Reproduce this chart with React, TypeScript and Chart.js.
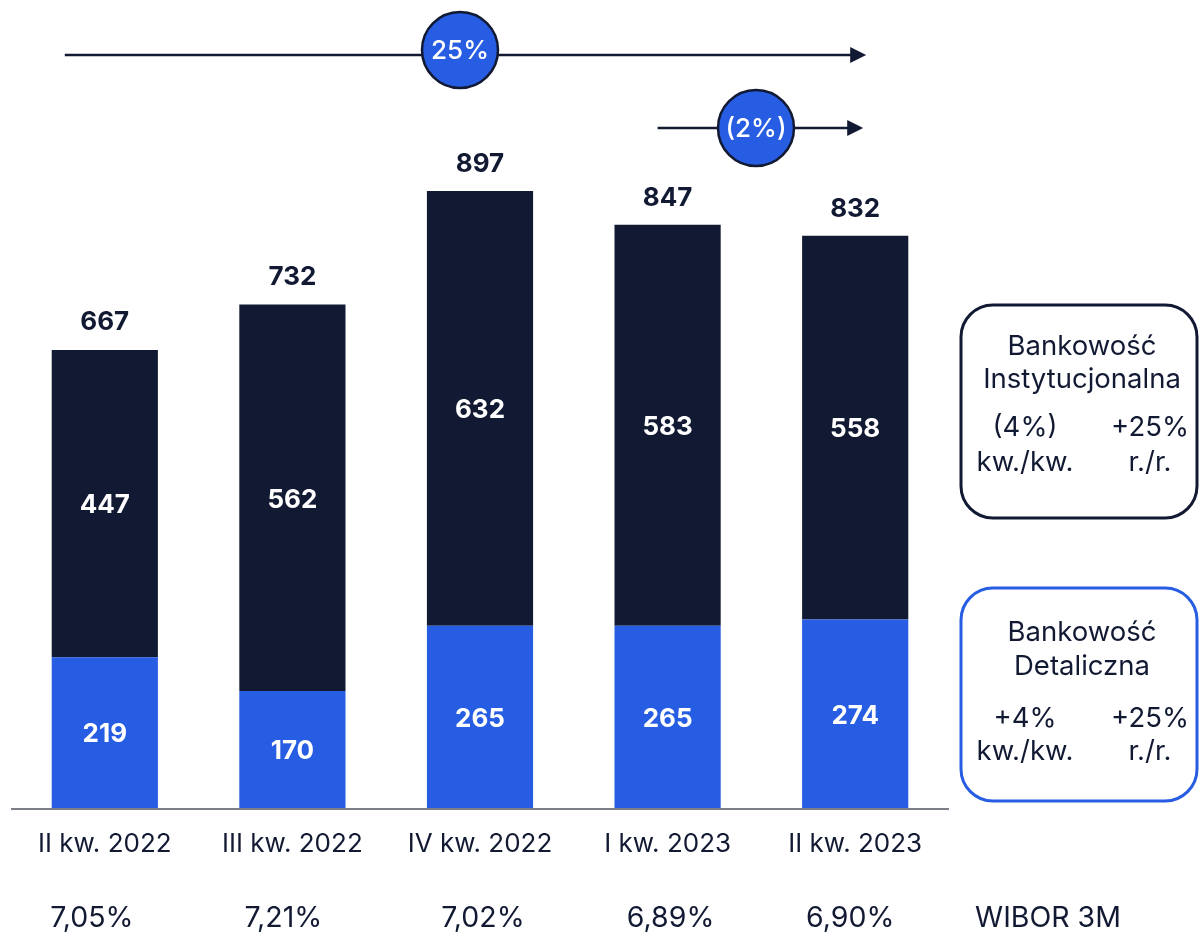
import React, { useEffect, useRef } from 'react';
import { Chart, registerables } from 'chart.js';

Chart.register(...registerables);

const categories = ['II kw. 2022', 'III kw. 2022', 'IV kw. 2022', 'I kw. 2023', 'II kw. 2023'];
const retailValues = [219, 170, 265, 265, 274];
const institutionalValues = [447, 562, 632, 583, 558];
const totalValues = [667, 732, 897, 847, 832];
const wiborValues = ['7,05%', '7,21%', '7,02%', '6,89%', '6,90%'];
const wiborTitle = 'WIBOR 3M';
const growthYearLabel = '25%';
const growthQuarterLabel = '(2%)';
const institutionalBoxTitle = ['Bankowość', 'Instytucjonalna'];
const institutionalBoxValues = ['(4%)', '+25%'];
const retailBoxTitle = ['Bankowość', 'Detaliczna'];
const retailBoxValues = ['+4%', '+25%'];
const boxPeriods = ['kw./kw.', 'r./r.'];

const NAVY = '#121933';
const BLUE = '#265DE2';
const FONT = 'Inter, "Noto Sans", sans-serif';

function roundRect(ctx: CanvasRenderingContext2D, x: number, y: number, w: number, h: number, r: number) {
  ctx.beginPath();
  ctx.moveTo(x + r, y);
  ctx.lineTo(x + w - r, y);
  ctx.arcTo(x + w, y, x + w, y + r, r);
  ctx.lineTo(x + w, y + h - r);
  ctx.arcTo(x + w, y + h, x + w - r, y + h, r);
  ctx.lineTo(x + r, y + h);
  ctx.arcTo(x, y + h, x, y + h - r, r);
  ctx.lineTo(x, y + r);
  ctx.arcTo(x, y, x + r, y, r);
  ctx.closePath();
}

function arrow(ctx: CanvasRenderingContext2D, x1: number, x2: number, y: number) {
  ctx.save();
  ctx.strokeStyle = NAVY;
  ctx.fillStyle = NAVY;
  ctx.lineWidth = 2.5;
  ctx.beginPath();
  ctx.moveTo(x1, y);
  ctx.lineTo(x2 - 12, y);
  ctx.stroke();
  ctx.beginPath();
  ctx.moveTo(x2, y);
  ctx.lineTo(x2 - 16, y - 8);
  ctx.lineTo(x2 - 16, y + 8);
  ctx.closePath();
  ctx.fill();
  ctx.restore();
}

function bubble(ctx: CanvasRenderingContext2D, x: number, y: number, text: string) {
  ctx.save();
  ctx.beginPath();
  ctx.arc(x, y, 38, 0, Math.PI * 2);
  ctx.fillStyle = BLUE;
  ctx.fill();
  ctx.lineWidth = 2.5;
  ctx.strokeStyle = NAVY;
  ctx.stroke();
  ctx.fillStyle = '#ffffff';
  ctx.font = `500 26px ${FONT}`;
  ctx.textAlign = 'center';
  ctx.textBaseline = 'middle';
  ctx.fillText(text, x, y + 1);
  ctx.restore();
}

function infoBox(
  ctx: CanvasRenderingContext2D,
  top: number,
  color: string,
  title: string[],
  values: string[],
  rows: number[],
) {
  ctx.save();
  roundRect(ctx, 961, top, 236, 213, 32);
  ctx.lineWidth = 3;
  ctx.strokeStyle = color;
  ctx.stroke();
  ctx.fillStyle = NAVY;
  ctx.font = `400 27.5px ${FONT}`;
  ctx.textAlign = 'center';
  ctx.textBaseline = 'middle';
  ctx.fillText(title[0], 1082, rows[0]);
  ctx.fillText(title[1], 1082, rows[1]);
  ctx.fillText(values[0], 1025, rows[2]);
  ctx.fillText(values[1], 1150, rows[2]);
  ctx.fillText(boxPeriods[0], 1025, rows[3]);
  ctx.fillText(boxPeriods[1], 1150, rows[3]);
  ctx.restore();
}

const overlayPlugin = {
  id: 'overlay',
  afterDatasetsDraw(chart: any) {
    const ctx: CanvasRenderingContext2D = chart.ctx;
    const area = chart.chartArea;
    const xs = chart.scales.x;
    const ys = chart.scales.y;

    // baseline
    ctx.save();
    ctx.strokeStyle = '#7d7f86';
    ctx.lineWidth = 2;
    ctx.beginPath();
    ctx.moveTo(area.left, area.bottom + 1);
    ctx.lineTo(area.right, area.bottom + 1);
    ctx.stroke();
    ctx.restore();

    // segment labels
    ctx.save();
    ctx.font = `700 26px ${FONT}`;
    ctx.textAlign = 'center';
    ctx.textBaseline = 'middle';
    ctx.fillStyle = '#ffffff';
    chart.data.datasets.forEach((ds: any, di: number) => {
      const meta = chart.getDatasetMeta(di);
      meta.data.forEach((el: any, i: number) => {
        const { x, y, base } = el.getProps(['x', 'y', 'base'], true);
        ctx.fillText(String(ds.data[i]), x, (y + base) / 2 + 2);
      });
    });
    // totals
    ctx.fillStyle = NAVY;
    totalValues.forEach((t, i) => {
      const x = xs.getPixelForValue(i);
      const y = ys.getPixelForValue(t);
      ctx.fillText(String(t), x, y - 27);
    });
    ctx.restore();

    // WIBOR row
    ctx.save();
    ctx.font = `400 28.5px ${FONT}`;
    ctx.fillStyle = NAVY;
    ctx.textAlign = 'center';
    ctx.textBaseline = 'middle';
    const wiborShift = [-13, -9, 3, 3, -5];
    wiborValues.forEach((w, i) => {
      ctx.fillText(w, xs.getPixelForValue(i) + wiborShift[i], 918);
    });
    ctx.fillText(wiborTitle, 1048, 918);
    ctx.restore();

    // growth arrows
    const x0 = xs.getPixelForValue(0);
    const x3 = xs.getPixelForValue(3);
    const x4 = xs.getPixelForValue(4);
    arrow(ctx, x0 - 40, x4 + 11, 55);
    bubble(ctx, 460, 50, growthYearLabel);
    arrow(ctx, x3 - 10, x4 + 8, 128);
    bubble(ctx, 756, 128, growthQuarterLabel);

    // info boxes
    infoBox(ctx, 305, NAVY, institutionalBoxTitle, institutionalBoxValues, [347, 380, 428, 463]);
    infoBox(ctx, 588, BLUE, retailBoxTitle, retailBoxValues, [633, 667, 719, 752]);
  },
};

export default function App() {
  const canvasRef = useRef<HTMLCanvasElement | null>(null);

  useEffect(() => {
    if (!canvasRef.current) return;
    const chart = new Chart(canvasRef.current, {
      type: 'bar',
      data: {
        labels: categories,
        datasets: [
          {
            label: 'Bankowość Detaliczna',
            data: retailValues,
            backgroundColor: BLUE,
            borderWidth: 0,
            categoryPercentage: 1,
            barPercentage: 0.566,
          },
          {
            label: 'Bankowość Instytucjonalna',
            data: institutionalValues,
            backgroundColor: NAVY,
            borderWidth: 0,
            categoryPercentage: 1,
            barPercentage: 0.566,
          },
        ],
      },
      options: {
        animation: false,
        responsive: false,
        maintainAspectRatio: false,
        devicePixelRatio: 1,
        layout: { padding: { left: 11, right: 250, top: 0, bottom: 0 } },
        plugins: {
          legend: { display: false },
          tooltip: { enabled: false },
          title: { display: false },
        },
        scales: {
          x: {
            stacked: true,
            offset: true,
            grid: { display: false, drawTicks: false },
            border: { display: false },
            ticks: {
              color: NAVY,
              padding: 21,
              font: { family: 'Inter', size: 26, weight: '400' as any },
              maxRotation: 0,
              autoSkip: false,
            },
            afterFit: (scale: any) => {
              scale.height = 124;
            },
          },
          y: {
            stacked: true,
            display: false,
            min: 0,
            max: 1174.7,
          },
        },
      },
      plugins: [overlayPlugin],
    });
    return () => chart.destroy();
  }, []);

  return (
    <div style={{ position: 'absolute', left: 0, top: 0, width: 1199, height: 932, background: '#ffffff' }}>
      <canvas ref={canvasRef} width={1199} height={932} style={{ width: 1199, height: 932, display: 'block' }} />
    </div>
  );
}
